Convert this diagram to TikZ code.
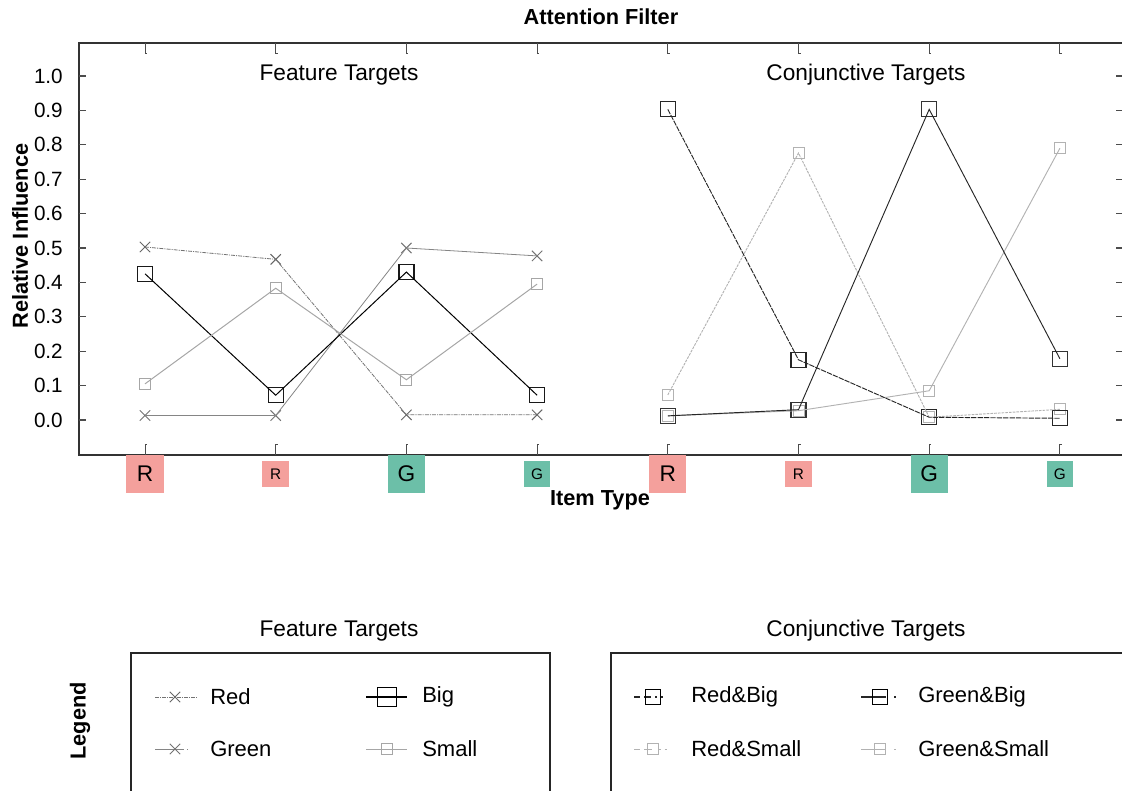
\documentclass[tikz,border=0pt]{standalone}
\usepackage{fontspec}
\setmainfont{Liberation Sans}
\usetikzlibrary{shapes.misc}
\definecolor{itemred}{HTML}{F4A09C}
\definecolor{itemgreen}{HTML}{6CBFA8}
\begin{document}
\begin{tikzpicture}[x=0.75pt,y=-0.75pt,
  font=\fontsize{16.5}{19}\selectfont,
  frame/.style={line width=1.5pt, draw=black!80},
  tickmark/.style={line width=0.9pt, draw=black!70},
  lbl/.style={inner sep=0},
  boldlbl/.style={inner sep=0, font=\fontsize{16.3}{19}\selectfont\bfseries},
  panel/.style={inner sep=0, font=\fontsize{17}{20}\selectfont},
  ticklbl/.style={inner sep=0, anchor=east, font=\fontsize{15.5}{18}\selectfont},
  catbig/.style={minimum size=28pt, inner sep=0, font=\fontsize{17}{17}\selectfont},
  catsmall/.style={minimum size=20pt, inner sep=0, font=\fontsize{11.5}{12}\selectfont},
  bigsq/.style={draw, rectangle, minimum size=11.25pt, inner sep=0, line width=0.9pt, solid},
  smallsq/.style={draw, rectangle, minimum size=8.25pt, inner sep=0, line width=0.75pt, solid},
  xmark/.style={draw, cross out, minimum size=7pt, inner sep=0, line width=0.75pt, solid},
  sRed/.style={draw=black!55, line width=0.6pt, dash pattern=on 3pt off 0.8pt on 0.8pt off 0.8pt},
  sGreen/.style={draw=black!48, line width=0.6pt},
  sBig/.style={draw=black, line width=0.75pt},
  sSmall/.style={draw=black!35, line width=0.75pt},
  sRedBig/.style={draw=black!85, line width=0.7pt, dash pattern=on 4pt off 0.8pt},
  sGreenBig/.style={draw=black!85, line width=0.7pt},
  sRedSmall/.style={draw=black!30, line width=0.7pt, dash pattern=on 2pt off 0.8pt},
  sGreenSmall/.style={draw=black!30, line width=0.7pt},
  legbox/.style={line width=1.5pt, draw=black!85}
]
\useasboundingbox (0,0) rectangle (1122,791);

% ---- titles and axis labels ----
\node[boldlbl] (title) at (601,17) {Attention Filter};
\node[boldlbl, rotate=90] (ylabel) at (20,236) {Relative Influence};
\node[boldlbl] (xlabel) at (600,500) {Item Type};
\node[panel] (ftop) at (339,75) {Feature Targets};
\node[panel] (ctop) at (866,75) {Conjunctive Targets};

% ---- axes frame ----
\draw[frame] (1122,43) -- (79,43) -- (79,455) -- (1122,455);

% y ticks on both sides with labels
\foreach \k/\lab in {0/0.0,1/0.1,2/0.2,3/0.3,4/0.4,5/0.5,6/0.6,7/0.7,8/0.8,9/0.9,10/1.0}{
  \draw[tickmark] (79,{420-34.4*\k}) -- ++(7,0);
  \draw[tickmark] (1116,{420-34.4*\k}) -- (1122,{420-34.4*\k});
  \node[ticklbl] (yl\k) at (63,{420-34.4*\k}) {\lab};
}
% x ticks at the top and bottom
\foreach \i in {0,...,7}{
  \draw[tickmark, line width=0.7pt] ({145+130.7*\i},43) -- ++(0,10) -- ++(2,0);
  \draw[tickmark, line width=0.7pt] ({145+130.7*\i},455) -- ++(0,-11) -- ++(2,0);
}

% ---- item type swatches ----
\foreach \i/\c/\l/\s in {0/itemred/R/big,1/itemred/R/small,2/itemgreen/G/big,3/itemgreen/G/small,
                         4/itemred/R/big,5/itemred/R/small,6/itemgreen/G/big,7/itemgreen/G/small}{
  \node[cat\s, fill=\c] (cat\i) at ({145+130.7*\i},474) {\l};
}

% ---- feature targets ----
\foreach \v [count=\i] in {0.503,0.467,0.015,0.015}
  \node[xmark, draw=black!60] (fr\i) at ({145+130.7*(\i-1)},{420-344*\v}) {};
\foreach \v [count=\i] in {0.013,0.013,0.500,0.477}
  \node[xmark, draw=black!55] (fg\i) at ({145+130.7*(\i-1)},{420-344*\v}) {};
\foreach \v [count=\i] in {0.425,0.072,0.430,0.072}
  \node[bigsq, draw=black!90] (fb\i) at ({145+130.7*(\i-1)},{420-344*\v}) {};
\foreach \v [count=\i] in {0.105,0.383,0.117,0.395}
  \node[smallsq, draw=black!35] (fs\i) at ({145+130.7*(\i-1)},{420-344*\v}) {};

\draw[sRed] (fr1.center) -- (fr2.center) -- (fr3.center) -- (fr4.center);
\draw[sGreen] (fg1.center) -- (fg2.center) -- (fg3.center) -- (fg4.center);
\draw[sBig] (fb1.center) -- (fb2.center) -- (fb3.center) -- (fb4.center);
\draw[sSmall] (fs1.center) -- (fs2.center) -- (fs3.center) -- (fs4.center);

% ---- conjunctive targets ----
\foreach \v [count=\i] in {0.073,0.776,0.008,0.031}
  \node[smallsq, draw=black!30] (crs\i) at ({145+130.7*(\i+3)},{420-344*\v}) {};
\foreach \v [count=\i] in {0.012,0.027,0.085,0.790}
  \node[smallsq, draw=black!30] (cgs\i) at ({145+130.7*(\i+3)},{420-344*\v}) {};
\foreach \v [count=\i] in {0.903,0.175,0.008,0.005}
  \node[bigsq, draw=black!85] (crb\i) at ({145+130.7*(\i+3)},{420-344*\v}) {};
\foreach \v [count=\i] in {0.012,0.030,0.903,0.178}
  \node[bigsq, draw=black!80] (cgb\i) at ({145+130.7*(\i+3)},{420-344*\v}) {};

\draw[sRedSmall] (crs1.center) -- (crs2.center) -- (crs3.center) -- (crs4.center);
\draw[sGreenSmall] (cgs1.center) -- (cgs2.center) -- (cgs3.center) -- (cgs4.center);
\draw[sRedBig] (crb1.center) -- (crb2.center) -- (crb3.center) -- (crb4.center);
\draw[sGreenBig] (cgb1.center) -- (cgb2.center) -- (cgb3.center) -- (cgb4.center);

% ---- legends ----
\node[panel] (flegt) at (339,631) {Feature Targets};
\node[panel] (clegt) at (866,631) {Conjunctive Targets};
\node[boldlbl, rotate=90] (legword) at (80,721) {Legend};
\draw[legbox] (131,795) -- (131,653) -- (550,653) -- (550,795);
\draw[legbox] (611,795) -- (611,653) -- (1126,653);

% feature legend keys
\coordinate (kra) at (155,697); \coordinate (krb) at (197,697);
\draw[sRed] (kra) -- (krb);
\node[xmark, draw=black!60] (krm) at (175,697) {};
\node[lbl, anchor=west] (krt) at (210,697) {Red};

\coordinate (kga) at (155,749); \coordinate (kgb) at (197,749);
\draw[sGreen, dash pattern=on 22pt off 2pt on 1pt off 10pt] (kga) -- (kgb);
\node[xmark, draw=black!55] (kgm) at (175,749) {};
\node[lbl, anchor=west] (kgt) at (210,749) {Green};

\coordinate (kba) at (366,697); \coordinate (kbb) at (407,697);
\draw[sBig, line width=1pt] (kba) -- (kbb);
\node[bigsq, minimum size=14pt, line width=1.1pt] (kbm) at (387,697) {};
\node[lbl, anchor=west] (kbt) at (422,697) {Big};

\coordinate (ksa) at (366,749); \coordinate (ksb) at (407,749);
\draw[sSmall] (ksa) -- (ksb);
\node[smallsq, draw=black!35] (ksm) at (387,749) {};
\node[lbl, anchor=west] (kst) at (422,749) {Small};

% conjunctive legend keys
\coordinate (qra) at (634,697); \coordinate (qrb) at (668,697);
\draw[sRedBig, line width=0.9pt, dash pattern=on 4.5pt off 3pt on 5pt off 3.5pt on 1.5pt off 3pt on 1.5pt off 5pt] (qra) -- (qrb);
\node[bigsq, draw=black] (qrm) at (653,697) {};
\node[lbl, anchor=west] (qrt) at (691,697) {Red\&Big};

\coordinate (qga) at (861,697); \coordinate (qgb) at (897,697);
\draw[sGreenBig, line width=0.9pt, dash pattern=on 19pt off 6pt on 1.5pt off 5pt] (qga) -- (qgb);
\node[bigsq, draw=black] (qgm) at (880,697) {};
\node[lbl, anchor=west] (qgt) at (918,697) {Green\&Big};

\coordinate (qsa) at (634,749); \coordinate (qsb) at (668,749);
\draw[sRedSmall, dash pattern=on 4.5pt off 3pt on 6pt off 5pt on 1.5pt off 3pt on 1.5pt off 5pt] (qsa) -- (qsb);
\node[smallsq, draw=black!30] (qsm) at (653,749) {};
\node[lbl, anchor=west] (qst) at (691,749) {Red\&Small};

\coordinate (qha) at (861,749); \coordinate (qhb) at (897,749);
\draw[sGreenSmall, dash pattern=on 19pt off 6pt on 1.5pt off 5pt] (qha) -- (qhb);
\node[smallsq, draw=black!30] (qhm) at (880,749) {};
\node[lbl, anchor=west] (qht) at (918,749) {Green\&Small};
\end{tikzpicture}
\end{document}
